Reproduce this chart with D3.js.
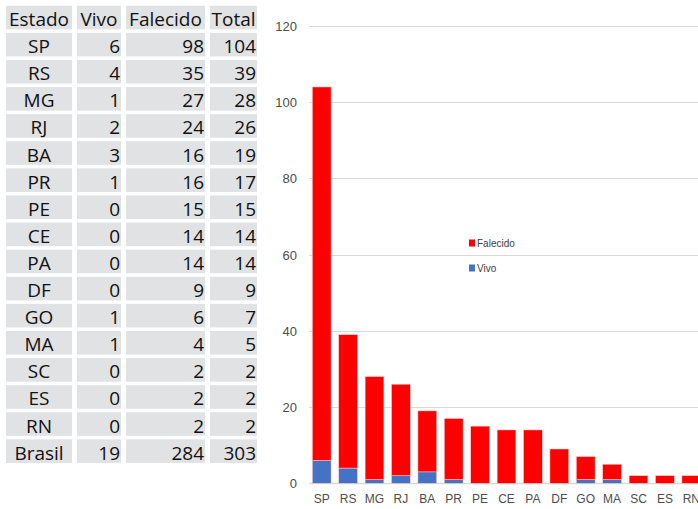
<!DOCTYPE html>
<html>
<head>
<meta charset="utf-8">
<script src="https://cdn.jsdelivr.net/npm/d3@7"></script>
<style>
  body { margin: 0; background: #fff; }
  .cell { fill: #e1e2e4; }
  .tbl text { font-family: "Open Sans", "Noto Sans", sans-serif; font-size: 19px; fill: #111; }
  .grid line { stroke: #d9d9d9; stroke-width: 1; }
  .ylab text, .xlab text { font-family: "Liberation Sans", Arial, sans-serif; fill: #4d4d4d; }
  .legend text { font-family: "Liberation Sans Narrow", "Liberation Sans", sans-serif; font-size: 10px; fill: #404040; }
</style>
</head>
<body>
<svg width="698" height="509"></svg>
<script>
var estados = ["SP", "RS", "MG", "RJ", "BA", "PR", "PE", "CE", "PA", "DF", "GO", "MA", "SC", "ES", "RN"];
var vivo = [6, 4, 1, 2, 3, 1, 0, 0, 0, 0, 1, 1, 0, 0, 0];
var falecido = [98, 35, 27, 24, 16, 16, 15, 14, 14, 9, 6, 4, 2, 2, 2];
var total = [104, 39, 28, 26, 19, 17, 15, 14, 14, 9, 7, 5, 2, 2, 2];
var header = ["Estado", "Vivo", "Falecido", "Total"];
var brasil = ["Brasil", 19, 284, 303];
var yTicks = [0, 20, 40, 60, 80, 100, 120];

var svg = d3.select("svg");

// ---- table ----
var cols = [
  { x: 6, w: 66, align: "middle" },
  { x: 77, w: 44, align: "end" },
  { x: 126, w: 79, align: "end" },
  { x: 210, w: 47, align: "end" }
];
var rows = [header];
estados.forEach(function (e, i) { rows.push([e, vivo[i], falecido[i], total[i]]); });
rows.push(brasil);

var rowY = d3.scaleBand().domain(d3.range(rows.length)).range([4, 4 + rows.length * 27.1]).paddingInner(0.13).paddingOuter(0.065);

var tbl = svg.append("g").attr("class", "tbl");
rows.forEach(function (r, i) {
  var g = tbl.append("g").attr("transform", "translate(0," + rowY(i) + ")");
  cols.forEach(function (c, j) {
    g.append("rect").attr("class", "cell")
      .attr("x", c.x).attr("y", 0)
      .attr("width", c.w).attr("height", rowY.bandwidth());
    var anchor = (i === 0) ? "middle" : c.align;
    var tx = anchor === "middle" ? c.x + c.w / 2 : c.x + c.w - 1;
    g.append("text")
      .attr("x", tx)
      .attr("y", rowY.bandwidth() / 2 + 8.5)
      .attr("text-anchor", anchor)
      .text(r[j]);
  });
});

// ---- chart ----
var y = d3.scaleLinear().domain([0, 120]).range([483.3, 26]);
var x = d3.scaleBand().domain(estados).range([308.5, 704.5]).paddingInner(0.29).paddingOuter(0.145);

svg.append("g").attr("class", "grid")
  .selectAll("line").data(yTicks).enter().append("line")
  .attr("x1", 309).attr("x2", 698)
  .attr("y1", function (d) { return Math.round(y(d)) + 0.5; })
  .attr("y2", function (d) { return Math.round(y(d)) + 0.5; })
  .style("stroke-width", function (d) { return d === 0 ? 1.5 : 1; });

svg.append("g").attr("class", "ylab")
  .selectAll("text").data(yTicks).enter().append("text")
  .attr("x", 297).attr("y", function (d) { return y(d) + 5; })
  .attr("text-anchor", "end").attr("font-size", 13)
  .text(function (d) { return d; });

var stack = d3.stack().keys(["vivo", "falecido"]);
var series = stack(estados.map(function (e, i) { return { estado: e, vivo: vivo[i], falecido: falecido[i] }; }));
var colors = { vivo: "#4472c4", falecido: "#ff0000" };

svg.append("g").selectAll("g").data(series).enter().append("g")
  .attr("fill", function (s) { return colors[s.key]; })
  .selectAll("rect").data(function (s) { return s; }).enter().append("rect")
  .filter(function (d) { return d[1] > d[0]; })
  .attr("x", function (d) { return x(d.data.estado); })
  .attr("width", x.bandwidth())
  .attr("y", function (d) { return y(d[1]); })
  .attr("height", function (d) { return y(d[0]) - y(d[1]); })
  .attr("stroke", "#ffcccc").attr("stroke-width", 0.5);

svg.append("g").attr("class", "xlab")
  .selectAll("text").data(estados).enter().append("text")
  .attr("x", function (d) { return x(d) + x.bandwidth() / 2; })
  .attr("y", 503).attr("text-anchor", "middle").attr("font-size", 12)
  .text(function (d) { return d; });

// legend
var legend = svg.append("g").attr("class", "legend");
var legItems = [{ key: "falecido", label: "Falecido", y: 243 }, { key: "vivo", label: "Vivo", y: 268 }];
legItems.forEach(function (l) {
  legend.append("rect").attr("x", 469).attr("y", l.y - 3.5).attr("width", 6).attr("height", 7).attr("fill", colors[l.key]);
  legend.append("text").attr("x", 477).attr("y", l.y + 3.5).text(l.label);
});
</script>
</body>
</html>
